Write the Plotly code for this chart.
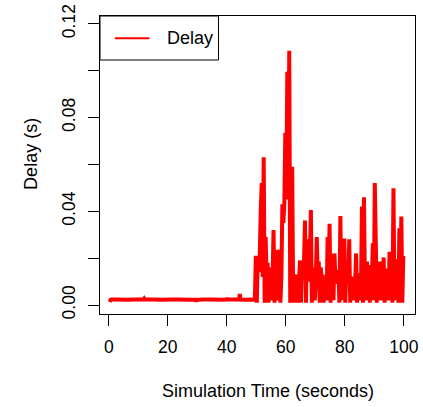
import numpy as np
import plotly.graph_objects as go

# ---- data ----
# phase 1 (0-50 s): nearly constant delay
t_early = [0.3, 0.6, 1.0, 3.0, 6.0, 9.0, 11.8, 12.0, 12.2, 15.0, 18.0, 21.0, 24.0, 27.0,
           29.4, 29.6, 29.8, 32.0, 35.0, 38.0, 39.8, 40.0, 40.2, 42.0, 44.2, 44.4, 44.6,
           46.0, 48.0, 49.2]
d_early = [0.0013, 0.0022, 0.0023, 0.0023, 0.0022, 0.0023, 0.0023, 0.0027, 0.0023, 0.0023,
           0.0022, 0.0023, 0.0023, 0.0022, 0.0022, 0.0015, 0.0022, 0.0023, 0.0023, 0.0022,
           0.0023, 0.0030, 0.0023, 0.0023, 0.0023, 0.0047, 0.0023, 0.0022, 0.0023, 0.0022]

# phase 2 (49.5-100 s): sampled every 1/3 s
late_start = 49.5
late_step = 1.0 / 3.0
d_late = [
    0.0022, 0.021, 0.001,
    0.021, 0.014, 0.0215,
    0.040, 0.052, 0.012,
    0.063, 0.001, 0.029,
    0.011, 0.018, 0.001,
    0.016, 0.002, 0.012,
    0.010, 0.032, 0.001,
    0.013, 0.002, 0.0235,
    0.011, 0.0235, 0.001,
    0.012, 0.043, 0.035,
    0.043, 0.0735, 0.045,
    0.0995, 0.060, 0.1085,
    0.001, 0.030, 0.059,
    0.001, 0.013, 0.010,
    0.013, 0.001, 0.012,
    0.011, 0.019, 0.001,
    0.019, 0.011, 0.018,
    0.036, 0.001, 0.028,
    0.023, 0.010, 0.021,
    0.0405, 0.001, 0.013,
    0.016, 0.002, 0.011,
    0.029, 0.011, 0.0185,
    0.001, 0.016, 0.011,
    0.013, 0.001, 0.012,
    0.011, 0.002, 0.029,
    0.010, 0.0346, 0.001,
    0.012, 0.022, 0.002,
    0.022, 0.010, 0.015,
    0.009, 0.015, 0.001,
    0.038, 0.002, 0.015,
    0.010, 0.0284, 0.001,
    0.015, 0.009, 0.011,
    0.028, 0.001, 0.012,
    0.009, 0.002, 0.0093,
    0.009, 0.022, 0.001,
    0.0135, 0.002, 0.012,
    0.010, 0.042, 0.001,
    0.046, 0.0078, 0.002,
    0.0185, 0.010, 0.017,
    0.001, 0.0163, 0.010,
    0.0263, 0.002, 0.052,
    0.0277, 0.001, 0.015,
    0.010, 0.0185, 0.002,
    0.0135, 0.009, 0.0203,
    0.001, 0.0156, 0.009,
    0.0085, 0.002, 0.0227,
    0.010, 0.0227, 0.001,
    0.0498, 0.002, 0.0192,
    0.010, 0.0195, 0.001,
    0.0327, 0.002, 0.0377,
    0.001, 0.0209,
]

x_ticks = [0, 20, 40, 60, 80, 100]
y_ticks = [0.00, 0.02, 0.04, 0.06, 0.08, 0.10, 0.12]
y_tick_text = ["0.00", "", "0.04", "", "0.08", "", "0.12"]

series_name = "Delay"
x_title = "Simulation Time (seconds)"
y_title = "Delay (s)"

# ---- build ----
t_late = late_start + late_step * np.arange(len(d_late))
t_all = list(t_early) + list(t_late)
d_all = list(d_early) + list(d_late)

FONT = "Liberation Sans, Arial, Helvetica, sans-serif"
W, H = 423, 407
L, R, T, B = 100, 419, 16, 314

def px(x):
    return (x - L) / (R - L)

def py(y):
    return (B - y) / (B - T)

fig = go.Figure()
fig.add_trace(go.Scatter(x=t_all, y=d_all, mode="lines", name=series_name,
                         line=dict(color="#ff0000", width=4, simplify=False),
                         showlegend=False))

fig.update_layout(
    width=W, height=H,
    margin=dict(l=L, r=W - R, t=T, b=H - B, pad=0),
    paper_bgcolor="white", plot_bgcolor="white",
    font=dict(family=FONT, size=17, color="black"),
)
fig.update_xaxes(range=[-3.0, 103.8], tickvals=x_ticks, ticks="outside", ticklen=11,
                 tickcolor="black", showgrid=False, zeroline=False, showline=True,
                 linecolor="black", linewidth=1, mirror=True,
                 tickfont=dict(size=17.5), ticklabelstandoff=6)
fig.update_yaxes(range=[-0.00384, 0.1233], tickvals=y_ticks, ticktext=y_tick_text,
                 ticks="outside", ticklen=11, tickcolor="black", showgrid=False,
                 zeroline=False, showline=True, linecolor="black", linewidth=1,
                 mirror=True, tickangle=-90, tickfont=dict(size=17.5), ticklabelstandoff=6)

# axis titles
fig.add_annotation(text=x_title, xref="paper", yref="paper", x=px(270), y=py(391),
                   showarrow=False, font=dict(size=18), xanchor="center", yanchor="middle")
fig.add_annotation(text=y_title, xref="paper", yref="paper", x=px(30), y=py(154),
                   showarrow=False, font=dict(size=18), textangle=-90,
                   xanchor="center", yanchor="middle")

# legend box (R-style)
fig.add_shape(type="rect", xref="paper", yref="paper", x0=px(100), x1=px(220),
              y0=py(60), y1=py(16), line=dict(color="black", width=1),
              fillcolor="white", layer="above")
fig.add_shape(type="line", xref="paper", yref="paper", x0=px(115), x1=px(150),
              y0=py(38.3), y1=py(38.3), line=dict(color="#ff0000", width=2), layer="above")
fig.add_annotation(text=series_name, xref="paper", yref="paper", x=px(166), y=py(38),
                   showarrow=False, font=dict(size=18), xanchor="left", yanchor="middle")

fig.write_html("out.html")
